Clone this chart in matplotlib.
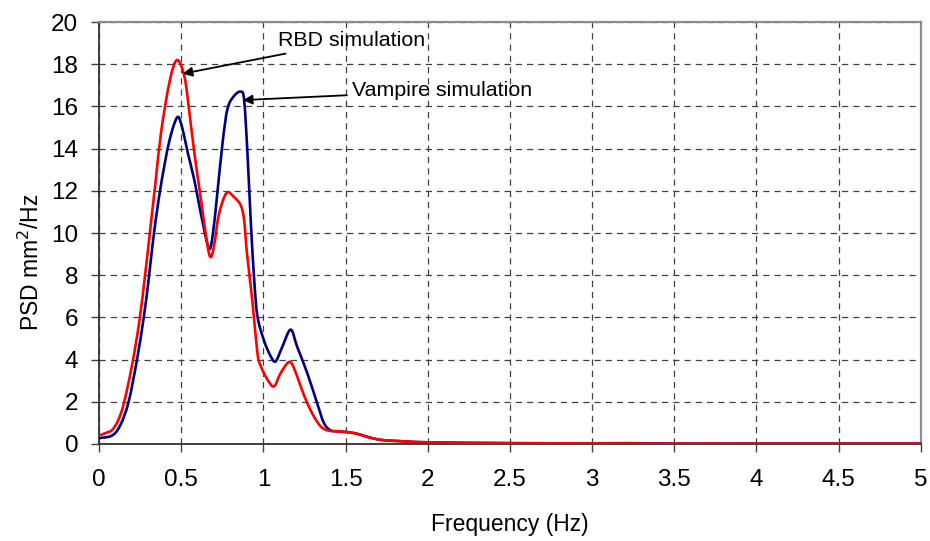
import numpy as np
import matplotlib.pyplot as plt
from matplotlib.path import Path
from matplotlib.patches import PathPatch

# PSD curves (frequency in Hz, PSD in mm^2/Hz)
rbd_freq = [0.0, 0.05, 0.079, 0.115, 0.15, 0.20, 0.245, 0.28, 0.312, 0.345, 0.378,
            0.43, 0.475, 0.52, 0.55, 0.58, 0.62, 0.66, 0.68, 0.70, 0.73, 0.776,
            0.822, 0.863, 0.883, 0.90, 0.934, 0.964, 0.984, 1.025, 1.065, 1.105,
            1.156, 1.186, 1.227, 1.267, 1.307, 1.348, 1.388, 1.45, 1.50, 1.55,
            1.60, 1.65, 1.72, 1.82, 2.0, 2.5, 3.0, 3.5, 4.0, 4.5, 5.0]
rbd_psd = [0.40, 0.55, 0.66, 1.1, 1.9, 3.7, 5.8, 8.0, 10.2, 12.5, 14.8,
           17.2, 18.2, 17.4, 15.7, 13.8, 11.6, 9.4, 8.86, 9.4, 10.9, 11.9,
           11.7, 11.3, 10.6, 9.05, 6.7, 4.3, 3.7, 3.05, 2.73, 3.36,
           3.89, 3.6, 2.73, 1.94, 1.31, 0.84, 0.65, 0.60, 0.57, 0.52,
           0.42, 0.30, 0.19, 0.14, 0.08, 0.04, 0.03, 0.02, 0.02, 0.02, 0.02]

vamp_freq = [0.0, 0.079, 0.13, 0.18, 0.231, 0.272, 0.302, 0.328, 0.363, 0.40, 0.429,
             0.459, 0.483, 0.509, 0.54, 0.58, 0.62, 0.667, 0.69, 0.72, 0.752, 0.782,
             0.822, 0.863, 0.883, 0.903, 0.923, 0.944, 0.964, 1.004, 1.045, 1.075,
             1.115, 1.166, 1.206, 1.267, 1.327, 1.368, 1.408, 1.45, 1.50, 1.55,
             1.60, 1.65, 1.72, 1.82, 2.0, 2.5, 3.0, 3.2, 3.5, 4.0, 4.5, 5.0]
vamp_psd = [0.28, 0.40, 0.9, 2.0, 4.0, 6.0, 7.8, 9.6, 11.6, 13.3, 14.4,
            15.2, 15.5, 14.9, 13.8, 12.5, 10.9, 9.3, 9.8, 11.9, 14.3, 15.9,
            16.5, 16.7, 16.3, 13.8, 10.6, 7.8, 6.05, 4.9, 4.15, 3.92,
            4.6, 5.42, 4.6, 3.36, 1.94, 1.0, 0.65, 0.60, 0.57, 0.52,
            0.42, 0.30, 0.19, 0.14, 0.08, 0.04, 0.03, 0.04, 0.02, 0.02, 0.02, 0.02]

x_ticks = [0, 0.5, 1, 1.5, 2, 2.5, 3, 3.5, 4, 4.5, 5]
x_tick_labels = ['0', '0.5', '1', '1.5', '2', '2.5', '3', '3.5', '4', '4.5', '5']
y_ticks = list(range(0, 21, 2))


def smooth_path(x, y):
    # Excel-style smoothed line: cubic Bezier segments through every data point
    p = np.column_stack([x, y]).astype(float)
    verts = [p[0]]
    codes = [Path.MOVETO]
    n = len(p)
    for i in range(n - 1):
        p0 = p[max(i - 1, 0)]
        p1 = p[i]
        p2 = p[i + 1]
        p3 = p[min(i + 2, n - 1)]
        c1 = p1 + (p2 - p0) / 6.0
        c2 = p2 - (p3 - p1) / 6.0
        verts += [c1, c2, p2]
        codes += [Path.CURVE4] * 3
    return Path(verts, codes)


plt.rcParams['font.family'] = ['Liberation Sans', 'DejaVu Sans']

fig = plt.figure(figsize=(9.3, 5.41), dpi=100)
ax = fig.add_axes([0.1065, 0.1793, 0.8835, 0.78])

ax.add_patch(PathPatch(smooth_path(vamp_freq, vamp_psd), fill=False,
                       edgecolor='#000080', lw=1.9, zorder=3, capstyle='round', joinstyle='round'))
ax.add_patch(PathPatch(smooth_path(rbd_freq, rbd_psd), fill=False,
                       edgecolor='#ff0000', lw=1.9, zorder=4, capstyle='round', joinstyle='round'))

ax.set_xlim(0, 5)
ax.set_ylim(0, 20)
ax.set_xticks(x_ticks)
ax.set_xticklabels(x_tick_labels)
ax.set_yticks(y_ticks)

ax.grid(True, color='#404040', lw=0.9, linestyle=(0, (5, 4)), zorder=1)
ax.set_axisbelow(True)

for side in ['top', 'right']:
    ax.spines[side].set_color('#8c8c8c')
    ax.spines[side].set_linewidth(1.6)
for side in ['left', 'bottom']:
    ax.spines[side].set_color('#303030')
    ax.spines[side].set_linewidth(1.3)

ax.tick_params(axis='both', direction='out', length=6, width=1, color='#404040',
               labelsize=17.5, labelcolor='black')
ax.tick_params(axis='x', pad=12)
ax.tick_params(axis='y', pad=9)

ax.set_xlabel('Frequency (Hz)', fontsize=16.5)
ax.set_ylabel('PSD mm$^2$/Hz', fontsize=16.5)
ax.xaxis.set_label_coords(0.5, -0.163)
ax.yaxis.set_label_coords(-0.067, 0.43)

arrow = dict(arrowstyle='-|>', color='black', lw=1.3, mutation_scale=14, shrinkA=2, shrinkB=0)
ax.annotate('RBD simulation', xy=(0.509, 17.55), xytext=(1.086, 19.11),
            ha='left', va='center', fontsize=15.4, arrowprops=arrow, zorder=5)
ax.annotate('Vampire simulation', xy=(0.875, 16.3), xytext=(1.542, 16.74),
            ha='left', va='center', fontsize=15.4, arrowprops=arrow, zorder=5)

fig.savefig('out.png', dpi=100)
